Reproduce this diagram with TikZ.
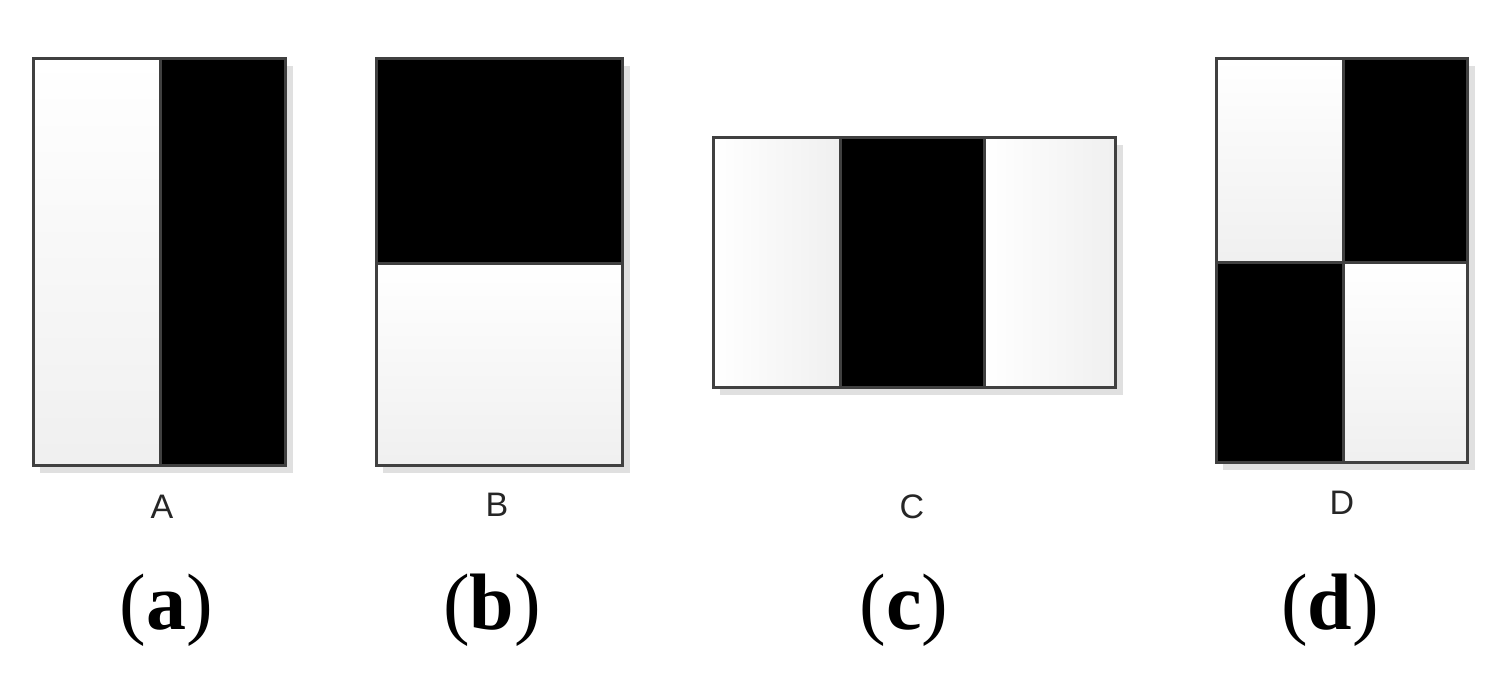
\documentclass[tikz,border=0pt]{standalone}
\usepackage{fontspec}
\setmainfont{Liberation Serif}
\newfontfamily\lblfont{Liberation Sans}
\begin{document}
\begin{tikzpicture}[x=1pt,y=-1pt,
  cellw/.style={top color=white,bottom color=white!94!black,draw=none},
  cellwh/.style={left color=white,right color=white!94!black,draw=none},
  cellb/.style={fill=black,draw=none},
  frame/.style={draw=black!75,line width=3pt},
  shadow/.style={fill=black!12,draw=none},
  lbl/.style={font=\lblfont\fontsize{34}{34}\selectfont,inner sep=0pt,text=black!85},
  captext/.style={font=\fontsize{80}{80}\selectfont,inner sep=0pt}]
\useasboundingbox (0,0) rectangle (1510,679);
% A
\fill[shadow] (40,66) rectangle (293,473);
\fill[cellw] (33,59) rectangle (160,465);
\fill[cellb] (160,59) rectangle (285,465);
\draw[frame] (33,59) rectangle (285,465);
\draw[frame] (160,59) -- (160,465);
% B
\fill[shadow] (383,66) rectangle (630,473);
\fill[cellb] (376,59) rectangle (622,263);
\fill[cellw] (376,263) rectangle (622,465);
\draw[frame] (376,59) rectangle (622,465);
\draw[frame] (376,263) -- (622,263);
% C
\fill[shadow] (720,145) rectangle (1123,395);
\fill[cellwh] (713,138) rectangle (840,387);
\fill[cellb] (840,138) rectangle (984,387);
\fill[cellwh] (984,138) rectangle (1115,387);
\draw[frame] (713,138) rectangle (1115,387);
\draw[frame] (840,138) -- (840,387);
\draw[frame] (984,138) -- (984,387);
% D
\fill[shadow] (1223,66) rectangle (1475,470);
\fill[cellw] (1216,59) rectangle (1343,262);
\fill[cellb] (1343,59) rectangle (1467,262);
\fill[cellb] (1216,262) rectangle (1343,462);
\fill[cellw] (1343,262) rectangle (1467,462);
\draw[frame] (1216,59) rectangle (1467,462);
\draw[frame] (1343,59) -- (1343,462);
\draw[frame] (1216,262) -- (1467,262);
% labels
\node[lbl] (la) at (162,507) {A};
\node[lbl] (lb) at (497,505) {B};
\node[lbl] (lc) at (912,507) {C};
\node[lbl] (ld) at (1342,503) {D};
\node[captext] (ca) at (166,610) {(\textbf{a})};
\node[captext] (cb) at (492,610) {(\textbf{b})};
\node[captext] (cc) at (904,610) {(\textbf{c})};
\node[captext] (cd) at (1330,610) {(\textbf{d})};
\end{tikzpicture}
\end{document}
